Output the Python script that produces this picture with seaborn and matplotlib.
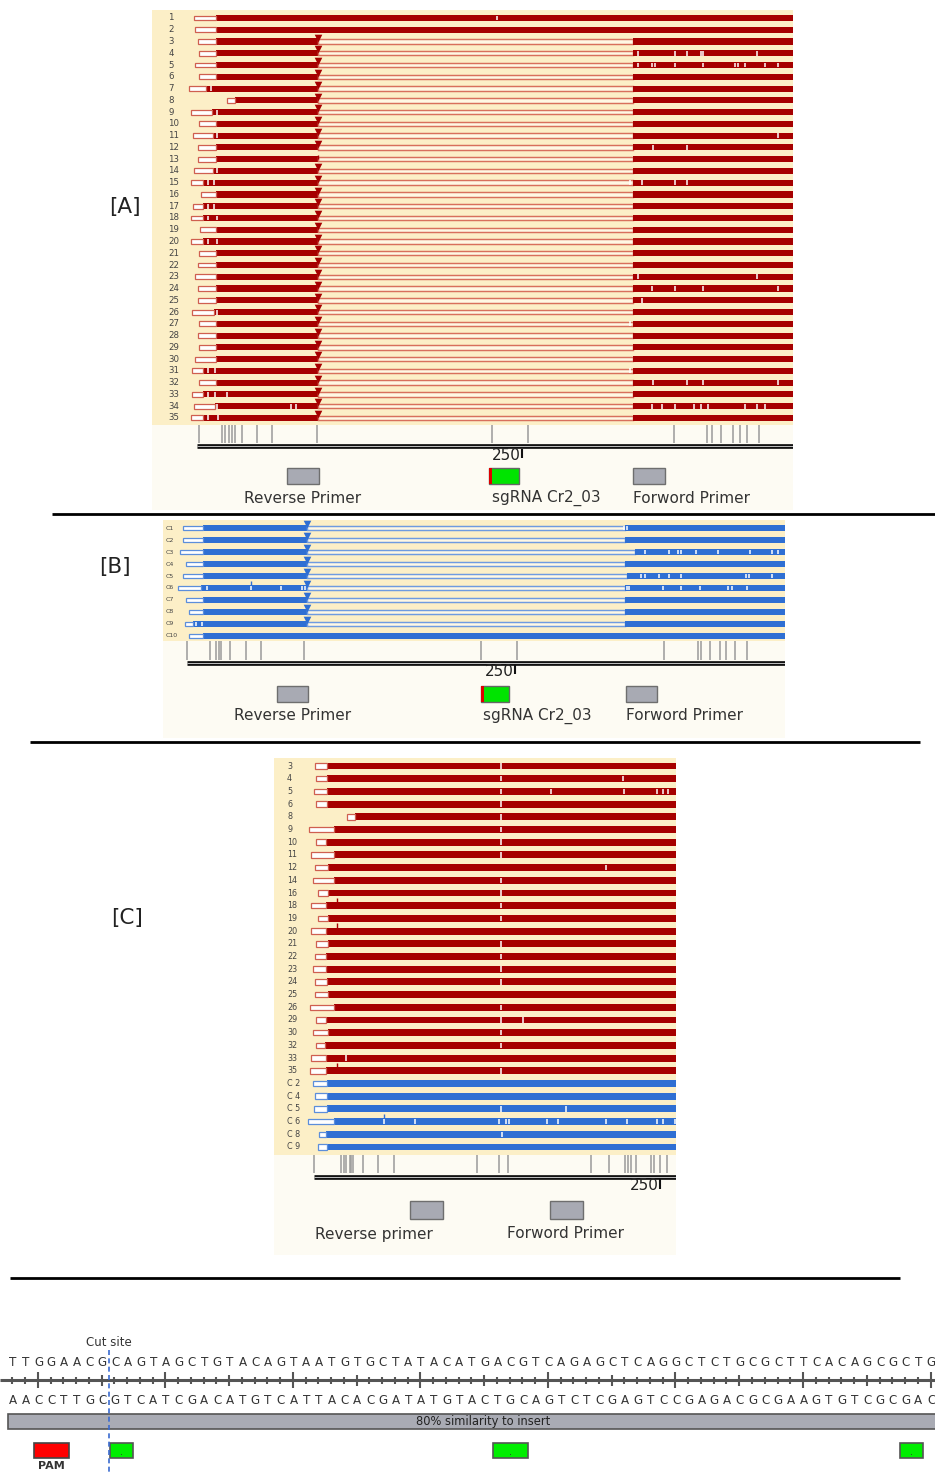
import matplotlib
matplotlib.use("Agg")
import matplotlib.pyplot as plt
import numpy as np
import seaborn as sns

sns.set_theme(style="white")
plt.rcParams['font.family'] = ['DejaVu Sans']

BEIGE = '#FCEFC7'
LIGHT = '#FDFBF3'
CREAM = '#FFF8E4'
RED, RED_LINE, RED_EDGE = '#A60000', '#D8705C', '#CF5F50'
BLUE, BLUE_LINE, BLUE_EDGE = '#2F6FD3', '#6F9BE0', '#5C8EDB'
GREY_BOX = '#A8AAB3'

# ---------------- [A] reads 1-35 (positions in bp) ----------------
a_labels = [str(i) for i in range(1, 36)]
a_start = [-2.1, -1.3, 0.5, 1.5, -1.5, 1.5, -6.2, 22.8, -4.8, 1.5,
           -2.8, 0.5, 0.5, -2.1, -4.8, 2.8, -2.8, -4.8, 2.3, -4.8,
           1.5, 0.5, -1.3, 0.5, 0.5, -3.8, 1.5, 0.5, 1.5, -1.3,
           -3.8, 1.5, -3.8, -2.1, -4.8]
a_clip_end = [14.4, 14.4, 14.4, 14.4, 14.4, 14.4, 6.8, 29.0, 11.3, 14.4,
              12.3, 14.4, 14.4, 12.3, 4.4, 14.4, 4.4, 4.4, 14.4, 4.4,
              14.4, 14.4, 14.4, 14.4, 14.4, 13.0, 14.4, 14.4, 14.4, 14.4,
              4.4, 14.4, 4.4, 13.6, 4.9]
a_deleted = [False, False] + [True] * 33
a_del_start = 93.0
a_del_end = 335.4
a_no_marker = ['13']
a_mism = {
    '1': [230.5],
    '4': [339.5, 367.7, 376.7, 388, 389, 430.5],
    '5': [339.5, 349.7, 352.3, 367.7, 389.5, 414, 416.4, 421.5, 437, 446.7],
    '7': [10.5], '9': [15.1], '11': [15.1, 446.7], '12': [351, 376.7],
    '14': [15.1], '15': [8.7, 13, 333, 342, 367.7, 376.7], '17': [8.7, 13],
    '18': [8.7, 15.1], '20': [8.7, 15.1], '23': [339.5, 430.5],
    '24': [349.7, 367.7, 389.5, 446.7], '25': [342], '26': [15.1], '27': [333],
    '31': [8.7, 13.8, 333], '32': [351, 376.7, 389.5, 446.7], '33': [8.7, 13.8, 23],
    '34': [15.1, 72, 76, 349.7, 358, 367.7, 382.5, 388, 393, 421.5, 430.5, 437],
    '35': [8.7, 15.9],
}
a_variants = [1.5, 19, 21.5, 25, 27, 29, 35, 46, 58, 92, 227, 255,
              367, 392, 396, 403, 412, 418, 423, 432]
a_feat_name = ['Reverse Primer', 'sgRNA Cr2_03', 'Forword Primer']
a_feat_start = [69.2, 224.6, 335.4]
a_feat_end = [93.8, 247.7, 360.0]
a_feat_lab_x = [81.5, 227.0, 335.4]
a_feat_lab_ha = ['center', 'left', 'left']

# ---------------- [B] clones C1-C10 ----------------
b_labels = ['C1', 'C2', 'C3', 'C4', 'C5', 'C6', 'C7', 'C8', 'C9', 'C10']
b_start = [-2.7, -2.7, -5.0, -0.9, -2.7, -7.1, -0.9, 1.2, -1.8, 1.2]
b_clip_end = [12.0, 12.0, 12.0, 12.0, 12.0, 10.4, 12.0, 12.0, 4.3, 12.0]
b_deleted = [True] * 9 + [False]
b_del_start = 91.5
b_del_end = [333.8, 333.8, 341.5, 333.8, 335.4, 333.8, 333.8, 333.8, 333.8, 333.8]
b_mism = {
    'C1': [333, 335],
    'C3': [349, 367.7, 374.2, 376.5, 387.6, 404.5, 429.1, 446, 450.6],
    'C5': [346, 349, 360, 367.7, 376.3, 426.2, 428.4, 446],
    'C6': [15.1, 48.9, 71.4, 87.4, 89.6, 335.4, 336.9, 363.1, 376.9, 390.8,
           412.3, 415.4, 426.8],
    'C9': [6.5, 11.4],
}
b_ins = {'C6': [48.9]}
b_variants = [0, 17.5, 22, 24.4, 26, 33, 45, 56.4, 89, 224, 251.5, 363.6,
              389.5, 391.8, 398.6, 406, 410.6, 417.5, 426.8]
b_feat_start = [68.6, 224.0, 334.6]
b_feat_end = [92.2, 245.4, 358.2]
b_feat_lab_x = [80.4, 225.6, 334.6]

# ---------------- [C] deletion alleles ----------------
c_labels = ['3', '4', '5', '6', '8', '9', '10', '11', '12', '14', '16', '18',
            '19', '20', '21', '22', '23', '24', '25', '26', '29', '30', '32',
            '33', '35', 'C 2', 'C 4', 'C 5', 'C 6', 'C 8', 'C 9']
c_blue = ['C 2', 'C 4', 'C 5', 'C 6', 'C 8', 'C 9']
c_start = [0.7, 1.4, 0.0, 1.4, 23.6, -3.6, 1.4, -2.2, 0.7, -0.5, 2.7, -2.2,
           2.7, -2.2, 1.4, 0.7, -0.5, 0.7, 0.7, -2.9, 1.4, -0.5, 1.4, -2.2,
           -2.9, -0.5, 0.7, 0.0, -4.1, 3.8, 2.7]
c_clip_end = [9.6, 9.6, 9.6, 9.6, 29.6, 14.7, 8.7, 14.7, 10.3, 14.7, 10.3, 8.7,
              10.3, 8.7, 10.3, 8.7, 8.7, 9.6, 10.3, 14.7, 8.7, 10.3, 7.9, 8.7,
              8.7, 9.2, 9.2, 9.6, 14.7, 8.7, 9.6]
c_mism = {
    '3': [134.9], '4': [134.9, 223.3],
    '5': [134.9, 171.2, 223.9, 248, 252.3, 255.9],
    '6': [134.9], '8': [134.9], '9': [134.9], '10': [134.9], '11': [134.9],
    '12': [211.0], '14': [134.9], '16': [134.9], '18': [134.9], '19': [134.9],
    '21': [134.9], '22': [134.9], '23': [134.9], '24': [134.9], '26': [134.9],
    '29': [134.9, 151.3], '30': [134.9], '32': [134.9], '33': [23.1],
    '35': [134.9], 'C 5': [134.9, 182.1],
    'C 6': [50.6, 72.9, 133.4, 138.7, 140.7, 168.1, 176.5, 211, 226.4, 248,
            252.3, 260.8],
    'C 8': [136.0],
}
c_ins = {'18': [16.4], '20': [16.4], '35': [16.4], 'C 6': [50.6]}
c_variants = [0, 19.5, 21.7, 23, 26, 26.7, 28, 35.4, 46, 58, 118, 134, 140,
              200, 213, 225, 227, 229, 233, 243.5, 245.6, 250, 255]
c_feat_name = ['Reverse primer', 'Forword Primer']
c_feat_start = [69.4, 170.5]
c_feat_end = [93.2, 194.4]
c_feat_lab_x = [43.4, 182.0]

# ---------------- [D] sequence view ----------------
top_seq = "TTGGAACGCAGTAGCTGTACAGTAATGTGCTATACATGACGTCAGAGCTCAGGCTCTGCGCTTCACAGCGCTG"
bottom_seq = "AACCTTGCGTCATCGACATGTCATTACACGATATGTACTGCAGTCTCGAGTCCGAGACGCGAAGTGTCGCGAC"
cut_site = 8.05
pam_span = (2.15, 4.89)
green_spans = [(8.11, 9.91), (38.15, 40.89), (70.07, 71.87)]
similarity_label = "80% similarity to insert"

W, H = 935, 1472
fig = plt.figure(figsize=(W / 100, H / 100), dpi=100)


def px_axes(x0, y0, x1, y1):
    ax = fig.add_axes([x0 / W, 1 - y1 / H, (x1 - x0) / W, (y1 - y0) / H])
    ax.set_xticks([])
    ax.set_yticks([])
    sns.despine(ax=ax, left=True, bottom=True)
    return ax


def draw_reads(ax, labels, starts, clip_end, x_end, h, colors, mism, ins,
               del_start=None, del_end=None, no_marker=(), lab_x=0, lab_fs=6):
    tri_x, tri_y, tri_c = [], [], []
    for i, lab in enumerate(labels):
        bar, line, edge = colors[i]
        ax.barh(i, clip_end[i] - starts[i], left=starts[i], height=h * 0.8,
                color='white', edgecolor=edge, linewidth=0.9, zorder=3)
        if del_start is not None and del_start[i] is not None:
            ax.barh(i, del_start[i] - clip_end[i], left=clip_end[i], height=h,
                    color=bar, linewidth=0, zorder=2)
            ax.barh(i, del_end[i] - del_start[i], left=del_start[i], height=h * 0.72,
                    color=CREAM, edgecolor=line, linewidth=1.05, zorder=2)
            ax.barh(i, x_end - del_end[i], left=del_end[i], height=h,
                    color=bar, linewidth=0, zorder=2)
            if lab not in no_marker:
                tri_x.append(del_start[i])
                tri_y.append(i - h * 0.62)
                tri_c.append(bar)
            else:
                ax.vlines(del_start[i], i - h * 0.75, i, colors=bar, lw=1, zorder=4)
        else:
            ax.barh(i, x_end - clip_end[i], left=clip_end[i], height=h,
                    color=bar, linewidth=0, zorder=2)
        xs = mism.get(lab, [])
        if xs:
            ax.vlines(xs, i - h * 0.4, i + h * 0.4, colors='white', lw=1.1, zorder=4)
        for x in ins.get(lab, []):
            ax.vlines(x, i - h * 1.1, i - h * 0.5, colors=bar, lw=1, zorder=4)
        ax.text(lab_x, i, lab, fontsize=lab_fs, color='#444', ha='left', va='center')
    if tri_x:
        sns.scatterplot(x=tri_x, y=tri_y, ax=ax, marker='v', s=30, color=tri_c[0],
                        linewidth=0, legend=False, zorder=5)


def draw_ruler(ax, x_end, variants, y_var, y_line, feats, y_box, box_h,
               y_lab, tick_y, fs=11):
    ax.vlines(variants, y_var[0], y_var[1], colors='#9A9A9A', lw=1.1)
    ax.hlines(y_line, 0, x_end, colors='#111111', lw=3.4)
    ax.hlines(y_line, 0, x_end, colors='#DDDDDD', lw=0.6)
    ax.vlines(250, tick_y[0], tick_y[1], colors='#111111', lw=1.5)
    ax.text(249, (tick_y[0] + tick_y[1]) / 2 + 1.5, '250', fontsize=fs,
            ha='right', va='center', color='#222')
    for name, s, e, lx, ha, kind in feats:
        if kind == 'sg':
            ax.barh(y_box, e - s, left=s, height=box_h, color='#00E400',
                    edgecolor='#666666', linewidth=1)
            ax.barh(y_box, 2.3, left=s, height=box_h, color='#DD0000', linewidth=0)
        else:
            ax.barh(y_box, e - s, left=s, height=box_h, color=GREY_BOX,
                    edgecolor='#6E6E6E', linewidth=1)
        ax.text(lx, y_lab, name, fontsize=fs, ha=ha, va='center', color='#333')


# overlay for panel letters and separators
over = fig.add_axes([0, 0, 1, 1])
over.set_xlim(0, W)
over.set_ylim(H, 0)
over.axis('off')
for lab, x, y in [('[A]', 125, 207), ('[B]', 115, 567), ('[C]', 127, 918), ('[D]', 128, 1298)]:
    over.text(x, y, lab, fontsize=15.5, ha='center', va='center', color='#222')
over.hlines(514, 52, 935, colors='black', lw=2.0)
over.hlines(742, 30, 920, colors='black', lw=2.0)
over.hlines(1278, 10, 900, colors='black', lw=2.0)

# ---- panel A ----
a_xlim = (-34.6, 458.5)
ax = px_axes(152, 10, 793, 425)
ax.set_facecolor(BEIGE)
ax.set_xlim(*a_xlim)
ax.set_ylim(34.6, -0.68)
draw_reads(ax, a_labels, a_start, a_clip_end, a_xlim[1], 0.52,
           [(RED, RED_LINE, RED_EDGE)] * len(a_labels), a_mism, {},
           [a_del_start if d else None for d in a_deleted],
           [a_del_end] * len(a_labels), a_no_marker, lab_x=-22, lab_fs=6.2)
ax = px_axes(152, 425, 793, 510)
ax.set_facecolor(LIGHT)
ax.set_xlim(*a_xlim)
ax.set_ylim(85, 0)
kinds = ['pr', 'sg', 'pr']
draw_ruler(ax, a_xlim[1], a_variants, (0, 18), 21.3,
           list(zip(a_feat_name, a_feat_start, a_feat_end, a_feat_lab_x, a_feat_lab_ha, kinds)),
           51, 16, 73, (24, 33))

# ---- panel B ----
b_xlim = (-18.3, 455.8)
ax = px_axes(163, 520, 785, 641)
ax.set_facecolor(BEIGE)
ax.set_xlim(*b_xlim)
ax.set_ylim(9.42, -0.67)
draw_reads(ax, b_labels, b_start, b_clip_end, b_xlim[1], 0.5,
           [(BLUE, BLUE_LINE, BLUE_EDGE)] * len(b_labels), b_mism, b_ins,
           [b_del_start if d else None for d in b_deleted], b_del_end,
           lab_x=-16, lab_fs=4.5)
ax = px_axes(163, 641, 785, 738)
ax.set_facecolor(LIGHT)
ax.set_xlim(*b_xlim)
ax.set_ylim(97, 0)
draw_ruler(ax, b_xlim[1], b_variants, (0, 19), 21.5,
           list(zip(a_feat_name, b_feat_start, b_feat_end, b_feat_lab_x, a_feat_lab_ha, kinds)),
           53, 16, 75, (24, 33))

# ---- panel C ----
c_xlim = (-28.9, 261.6)
ax = px_axes(274, 758, 676, 1155)
ax.set_facecolor(BEIGE)
ax.set_xlim(*c_xlim)
ax.set_ylim(30.63, -0.63)
c_cols = [(BLUE, BLUE_LINE, BLUE_EDGE) if l in c_blue else (RED, RED_LINE, RED_EDGE)
          for l in c_labels]
draw_reads(ax, c_labels, c_start, c_clip_end, c_xlim[1], 0.55, c_cols,
           c_mism, c_ins, lab_x=-19.5, lab_fs=5.8)
ax = px_axes(274, 1155, 676, 1255)
ax.set_facecolor(LIGHT)
ax.set_xlim(*c_xlim)
ax.set_ylim(100, 0)
draw_ruler(ax, c_xlim[1], c_variants, (0, 18), 21.5,
           list(zip(c_feat_name, c_feat_start, c_feat_end, c_feat_lab_x,
                    ['center', 'center'], ['pr', 'pr'])),
           55, 18, 79, (24, 34))

# ---- panel D ----
ax = px_axes(0, 1285, 935, 1472)
ax.set_facecolor('white')
ax.set_xlim(-0.52, 72.8)
ax.set_ylim(187, 0)
ax.text(cut_site, 57, 'Cut site', fontsize=8.5, ha='center', va='center', color='#333')
for i, ch in enumerate(top_seq):
    ax.text(i + 0.5, 77, ch, fontsize=8.6, ha='center', va='center', color='#333')
for i, ch in enumerate(bottom_seq):
    ax.text(i + 0.5, 115, ch, fontsize=8.6, ha='center', va='center', color='#333')
ax.hlines(95, -0.52, 72.8, colors='#555555', lw=2.2)
idx = np.arange(len(top_seq))
half = np.where((idx - 2) % 10 == 0, 8, np.where((idx - 7) % 10 == 0, 5.5, 3.5))
ax.vlines(idx + 0.45, 95 - half, 95 + half, colors='#555555', lw=1.5)
ax.barh(136.5, 73.5, left=0.11, height=15, color='#A9ABB4', edgecolor='#555555', lw=1.2)
ax.text(37.4, 136.5, similarity_label, fontsize=8.3, ha='center', va='center', color='#222')
ax.barh(165.5, pam_span[1] - pam_span[0], left=pam_span[0], height=15,
        color='#FF0000', edgecolor='#444444', lw=1.2)
ax.text(sum(pam_span) / 2, 181, 'PAM', fontsize=8, fontweight='bold', ha='center',
        va='center', color='#333')
for s, e in green_spans:
    ax.barh(165.5, e - s, left=s, height=15, color='#00EE00', edgecolor='#555555', lw=1.2)
    ax.text((s + e) / 2, 167, '.', fontsize=7, ha='center', va='center', color='#333')
ax.vlines(cut_site, 65, 187, colors='#3A6BD0', lw=1.2, linestyles=(0, (3, 2)))

fig.savefig('out.png', dpi=100, facecolor='white')
